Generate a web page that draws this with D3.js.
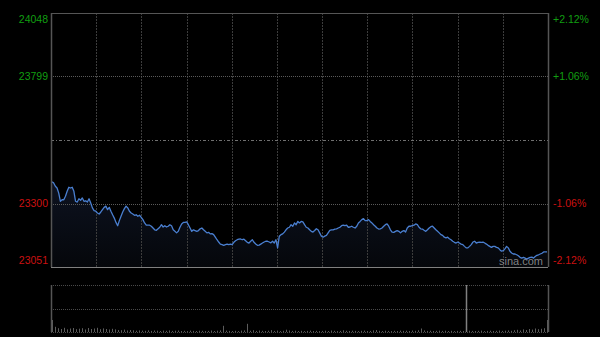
<!DOCTYPE html>
<html>
<head>
<meta charset="utf-8">
<script src="https://cdn.jsdelivr.net/npm/d3@7"></script>
<style>
body{margin:0;background:#000;}
svg{display:block;}
</style>
</head>
<body>
<svg id="chart" width="600" height="337"></svg>
<script>
// previous close and the five price ticks
var prevClose = 23549.5;
var priceTicks = [24048, 23799, 23549.5, 23300, 23051];
var leftLabels = ["24048", "23799", "", "23300", "23051"];
var rightLabels = ["+2.12%", "+1.06%", "", "-1.06%", "-2.12%"];
// minutes from the open (330 trading minutes), one grid line every 30
var timeTicks = [30, 60, 90, 120, 150, 180, 210, 240, 270, 300];

// index level
var prices = [
	23385, 23381, 23368, 23361, 23341, 23309, 23315, 23315, 23329, 23348,
	23364, 23361, 23364, 23348, 23309, 23306, 23319, 23313, 23322, 23309,
	23311, 23306, 23319, 23302, 23283, 23272, 23270, 23263, 23259, 23267,
	23276, 23285, 23290, 23276, 23285, 23270, 23256, 23243, 23226, 23213,
	23233, 23250, 23267, 23280, 23290, 23283, 23270, 23263, 23259, 23254,
	23256, 23250, 23254, 23246, 23237, 23224, 23215, 23215, 23215, 23211,
	23204, 23197, 23195, 23201, 23207, 23217, 23208, 23213, 23208, 23211,
	23217, 23213, 23197, 23191,
	23185, 23191, 23207, 23220, 23226, 23226, 23228, 23217, 23204, 23191,
	23197, 23194, 23191, 23194, 23201, 23204, 23197, 23191, 23185, 23187,
	23181, 23182, 23178, 23168, 23158, 23149, 23141, 23139, 23136, 23139,
	23141, 23139, 23141, 23139, 23148, 23154, 23158, 23160, 23161, 23158,
	23160, 23154, 23148, 23145, 23152, 23158, 23148, 23141, 23136, 23137,
	23141, 23145, 23149, 23152, 23152, 23149, 23146, 23152, 23145, 23158,
	23126, 23172, 23178, 23181, 23188, 23197, 23204, 23207, 23217, 23211,
	23224, 23217, 23230, 23224, 23230,
	23228, 23217, 23207, 23204, 23197, 23191, 23188, 23194, 23201,
	23197, 23185, 23172, 23168, 23172, 23175, 23185, 23195, 23197, 23197,
	23200, 23201, 23204, 23207, 23213, 23215, 23213, 23215, 23207, 23208,
	23211, 23207, 23204, 23211, 23224, 23230, 23237, 23241, 23233, 23233,
	23237, 23230, 23224, 23217, 23211, 23204, 23200, 23201, 23204, 23211,
	23217, 23220, 23211, 23197, 23188, 23187, 23191, 23194, 23191, 23185,
	23191, 23194, 23188, 23204, 23211, 23211, 23213, 23215, 23220, 23217,
	23207,
	23201, 23200, 23195, 23191, 23197, 23204, 23209, 23211, 23204, 23197,
	23191, 23185, 23178, 23175, 23168, 23165, 23168, 23162, 23158, 23152,
	23148, 23145, 23149, 23145, 23141, 23139, 23132, 23126, 23126, 23132,
	23139, 23149, 23152, 23145, 23148, 23149, 23148, 23149, 23145, 23141,
	23136, 23132, 23128, 23132, 23132, 23128, 23126, 23119, 23113, 23115,
	23122, 23132, 23126, 23113, 23106, 23102, 23102, 23099, 23095, 23089,
	23086, 23089, 23086, 23082, 23086, 23089, 23090, 23086, 23092, 23097,
	23099, 23102, 23105, 23110, 23110, 23110
];

// turnover bars
var volumes = [
	1200, 520, 380, 300, 420, 260, 350, 400, 280, 330,
	380, 250, 400, 300, 350, 420, 280, 360, 300, 250,
	320, 260, 200, 180, 240, 150, 200, 170, 130, 160,
	140, 120, 170, 110, 150, 130, 100, 140, 120, 160,
	110, 130, 150, 100, 120, 90, 140, 110, 100, 130,
	120, 90, 110, 150, 100, 130, 160, 620, 140, 110,
	100, 120, 90, 140, 160, 820, 130, 180, 110, 150,
	120, 100, 130, 190, 110, 140, 90, 120, 230, 150,
	110, 130, 100, 120, 90, 110, 140, 100, 120, 90,
	110, 130, 100, 150, 120, 90, 110, 170, 120, 100,
	130, 110, 90, 120, 140, 100, 110, 160, 200, 120,
	100, 130, 110, 90, 120, 100, 140, 110, 130, 100,
	150, 120, 180, 350, 160, 110, 130, 100, 120, 140,
	110, 130, 100, 120, 90, 110, 120, 100, 4700, 130,
	110, 100, 120, 140, 90, 110, 130, 100, 120, 150,
	110, 130, 160, 120, 180, 220, 150, 260, 200, 300,
	240, 350, 280, 320, 380, 1200
];

var svg = d3.select("#chart");
var plotLeft = 51, plotRight = 548, plotTop = 13, plotBottom = 267;
var volTop = 285, volBottom = 332;

var x = d3.scaleLinear().domain([0, 330]).range([plotLeft, plotRight]);
var xi = d3.scaleLinear().domain([0, prices.length - 1]).range([plotLeft + 1, plotRight - 1]);
var xv = d3.scaleLinear().domain([0, volumes.length - 1]).range([plotLeft + 1, plotRight - 1]);
var y = d3.scaleLinear().domain([23051, 24048]).range([plotBottom, plotTop]);
var yv = d3.scaleLinear().domain([0, d3.max(volumes)]).range([volBottom, volTop]);

// gradient under the line
var grad = svg.append("defs").append("linearGradient")
	.attr("id", "areaFill").attr("x1", 0).attr("y1", 0).attr("x2", 0).attr("y2", 1);
grad.append("stop").attr("offset", "0%").attr("stop-color", "#0d1220");
grad.append("stop").attr("offset", "100%").attr("stop-color", "#05070b");

svg.append("path")
	.datum(prices)
	.attr("d", d3.area().x(function(d, i){ return xi(i); }).y0(plotBottom).y1(function(d){ return y(d); }))
	.attr("fill", "url(#areaFill)");

// vertical grid
svg.append("g").selectAll("line")
	.data(timeTicks).enter().append("line")
	.attr("x1", function(d){ return Math.round(x(d)) + 0.5; })
	.attr("x2", function(d){ return Math.round(x(d)) + 0.5; })
	.attr("y1", plotTop).attr("y2", plotBottom)
	.attr("stroke", "#3c3c3c")
	.attr("stroke-dasharray", "2,1");

// horizontal grid
svg.append("g").selectAll("line")
	.data(priceTicks.slice(1, 4)).enter().append("line")
	.attr("x1", plotLeft).attr("x2", plotRight)
	.attr("y1", function(d){ return Math.round(y(d)) + 0.5; })
	.attr("y2", function(d){ return Math.round(y(d)) + 0.5; })
	.attr("stroke", function(d){ return d === prevClose ? "#707070" : "#5a5a5a"; })
	.attr("stroke-dasharray", function(d){ return d === prevClose ? "3,2,1,2" : "1,1"; });

// price line
svg.append("path")
	.datum(prices)
	.attr("d", d3.line().x(function(d, i){ return xi(i); }).y(function(d){ return y(d); }))
	.attr("fill", "none")
	.attr("stroke", "#4a7fd0")
	.attr("stroke-width", 1.3)
	.attr("stroke-linejoin", "round");

// frame of the price panel
svg.append("line").attr("x1", plotLeft).attr("x2", plotRight).attr("y1", plotTop + 0.5).attr("y2", plotTop + 0.5).attr("stroke", "#555");
svg.append("line").attr("x1", plotLeft).attr("x2", plotRight).attr("y1", plotBottom + 0.5).attr("y2", plotBottom + 0.5).attr("stroke", "#808080");
svg.append("line").attr("x1", plotLeft + 0.5).attr("x2", plotLeft + 0.5).attr("y1", plotTop).attr("y2", plotBottom).attr("stroke", "#555").attr("stroke-width", 1.5);
svg.append("line").attr("x1", plotRight + 0.5).attr("x2", plotRight + 0.5).attr("y1", plotTop).attr("y2", plotBottom).attr("stroke", "#555").attr("stroke-width", 1.5);

// axis labels
var labelY = function(d, i){
	if(i === 0) return y(d) + 6;
	if(i === priceTicks.length - 1) return y(d) - 7;
	return y(d);
};
var labelColor = function(d){ return d > prevClose ? "#119e11" : "#cc1111"; };

svg.append("g").selectAll("text")
	.data(priceTicks).enter().append("text")
	.attr("x", plotLeft - 3)
	.attr("y", labelY)
	.attr("dy", "0.36em")
	.attr("text-anchor", "end")
	.attr("font-family", "Arial, 'Liberation Sans', sans-serif")
	.attr("font-size", "10.5px")
	.attr("fill", labelColor)
	.text(function(d, i){ return leftLabels[i]; });

svg.append("g").selectAll("text")
	.data(priceTicks).enter().append("text")
	.attr("x", plotRight + 5)
	.attr("y", labelY)
	.attr("dy", "0.36em")
	.attr("text-anchor", "start")
	.attr("font-family", "Arial, 'Liberation Sans', sans-serif")
	.attr("font-size", "10.5px")
	.attr("fill", labelColor)
	.text(function(d, i){ return rightLabels[i]; });

// watermark
svg.append("text")
	.attr("x", 499).attr("y", 265)
	.attr("font-family", "Arial, 'Liberation Sans', sans-serif")
	.attr("font-size", "11px")
	.attr("fill", "#9a9a9a")
	.attr("fill-opacity", 0.85)
	.text("sina.com");

// volume panel grid
svg.append("g").selectAll("line")
	.data([volTop, (volTop + volBottom) / 2, volBottom]).enter().append("line")
	.attr("x1", plotLeft).attr("x2", plotRight)
	.attr("y1", function(d){ return Math.round(d) + 0.5; })
	.attr("y2", function(d){ return Math.round(d) + 0.5; })
	.attr("stroke", "#4a4a4a")
	.attr("stroke-dasharray", "1,1");

// volume bars
svg.append("g").selectAll("line")
	.data(volumes).enter().append("line")
	.attr("x1", function(d, i){ return Math.round(xv(i)) + 0.5; })
	.attr("x2", function(d, i){ return Math.round(xv(i)) + 0.5; })
	.attr("y1", volBottom)
	.attr("y2", function(d){ return yv(d); })
	.attr("stroke", function(d){ return d > 3000 ? "#808080" : "#5c5c5c"; })
	.attr("stroke-width", function(d){ return d > 3000 ? 1.5 : 1; });

svg.append("line").attr("x1", plotLeft + 0.5).attr("x2", plotLeft + 0.5).attr("y1", volTop).attr("y2", volBottom).attr("stroke", "#555").attr("stroke-width", 1.5);
svg.append("line").attr("x1", plotRight + 0.5).attr("x2", plotRight + 0.5).attr("y1", volTop).attr("y2", volBottom).attr("stroke", "#555").attr("stroke-width", 1.5);
</script>
</body>
</html>
